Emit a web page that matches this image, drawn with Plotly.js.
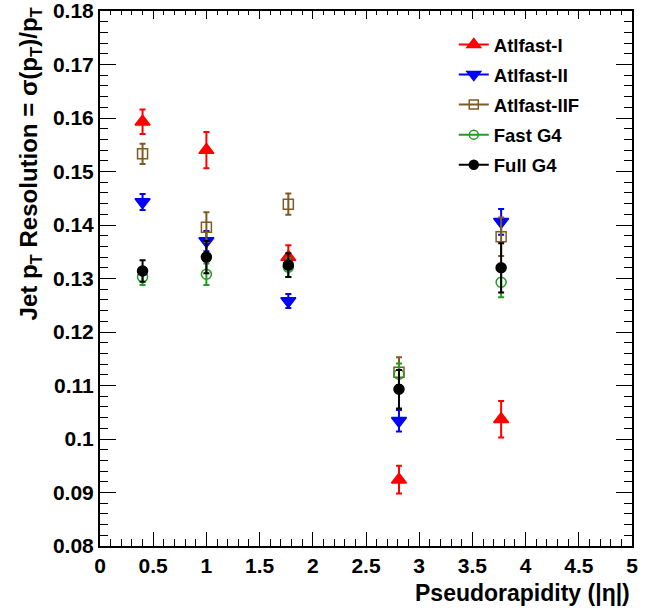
<!DOCTYPE html>
<html>
<head>
<meta charset="utf-8">
<script src="https://cdn.plot.ly/plotly-3.0.1.min.js"></script>
<style>html,body{margin:0;padding:0;background:#fff;}#chart{width:649px;height:609px;}</style>
</head>
<body>
<div id="chart"></div>
<script>
// Data
const eta = [0.4, 1.0, 1.77, 2.81, 3.77];
const seriesNames = ["Atlfast-I", "Atlfast-II", "Atlfast-IIF", "Fast G4", "Full G4"];
const atlfastI      = [0.1593, 0.1540, 0.1340, 0.0924, 0.1037];
const atlfastIErr   = [0.0023, 0.0034, 0.0022, 0.0026, 0.0034];
const atlfastII     = [0.1443, 0.1370, 0.1258, 0.1034, 0.1406];
const atlfastIIErr  = [0.0015, 0.0019, 0.0013, 0.0020, 0.0024];
const atlfastIIF    = [0.1533, 0.1396, 0.1439, 0.1125, 0.1378];
const atlfastIIFErr = [0.0019, 0.0028, 0.0020, 0.0028, 0.0036];
const fastG4        = [0.1303, 0.1308, 0.1321, 0.1121, 0.1293];
const fastG4Err     = [0.0015, 0.0020, 0.0018, 0.0020, 0.0028];
const fullG4        = [0.1314, 0.1340, 0.1325, 0.1093, 0.1320];
const fullG4Err     = [0.0020, 0.0030, 0.0022, 0.0036, 0.0046];
const yTickVals = [0.08, 0.09, 0.10, 0.11, 0.12, 0.13, 0.14, 0.15, 0.16, 0.17, 0.18];
const yTickText = ["0.08", "0.09", "0.1", "0.11", "0.12", "0.13", "0.14", "0.15", "0.16", "0.17", "0.18"];

const yValues = [atlfastI, atlfastII, atlfastIIF, fastG4, fullG4];
const yErrors = [atlfastIErr, atlfastIIErr, atlfastIIFErr, fastG4Err, fullG4Err];
const colors  = ["#ff0000", "#0000ff", "#7f5a22", "#1f9e1f", "#000000"];
const symbols = ["triangle-up", "triangle-down", "square-open", "circle-open", "circle"];
const sizes   = [13, 13, 10, 10, 10];

const traces = [];
for (let i = 0; i < seriesNames.length; i++) {
  traces.push({
    type: "scatter", mode: "markers", x: eta, y: yValues[i],
    name: seriesNames[i], showlegend: false,
    marker: {symbol: symbols[i], color: colors[i], size: sizes[i], line: {color: colors[i], width: 1.5}},
    error_y: {type: "data", array: yErrors[i], visible: true, color: colors[i], thickness: 2, width: 3}
  });
}
// legend entries (line + marker, ROOT style)
for (let i = 0; i < seriesNames.length; i++) {
  traces.push({
    type: "scatter", mode: "lines+markers", x: [null], y: [null],
    name: seriesNames[i], legendgroup: "g" + i, showlegend: true, hoverinfo: "skip",
    line: {color: colors[i], width: 2},
    marker: {symbol: symbols[i], color: colors[i], size: sizes[i] - 1, line: {color: colors[i], width: 1.5}}
  });
}
// dummy trace for the top axis
traces.push({type: "scatter", mode: "markers", x: [null], y: [null], xaxis: "x2", yaxis: "y", showlegend: false, hoverinfo: "skip"});

const F = "Liberation Sans, Arial, Helvetica, sans-serif";
const layout = {
  width: 649, height: 609,
  margin: {l: 100, r: 17, t: 11, b: 63},
  paper_bgcolor: "#ffffff", plot_bgcolor: "#ffffff",
  showlegend: true,
  font: {family: F, color: "#000", weight: "bold"},
  xaxis: {
    range: [0, 5.000001], dtick: 0.5, tick0: 0, ticks: "inside", ticklen: 14, tickwidth: 1, tickcolor: "#000",
    minor: {dtick: 0.1, ticks: "inside", ticklen: 7, tickwidth: 1, tickcolor: "#000"},
    showline: true, linecolor: "#000", linewidth: 2, mirror: false, showgrid: false, zeroline: false,
    tickfont: {family: F, size: 21, weight: "bold", color: "#000"}, ticklabeloverflow: "allow",
    title: {text: ""}
  },
  xaxis2: {
    overlaying: "x", matches: "x", side: "top", anchor: "y",
    dtick: 0.5, tick0: 0, ticks: "inside", ticklen: 8, tickwidth: 1, tickcolor: "#000",
    minor: {dtick: 0.1, ticks: "inside", ticklen: 4, tickwidth: 1, tickcolor: "#000"},
    showline: true, linecolor: "#000", linewidth: 2, showticklabels: false, showgrid: false, zeroline: false
  },
  yaxis: {
    range: [0.08, 0.18], tickmode: "array", tickvals: yTickVals, ticktext: yTickText,
    ticks: "inside", ticklen: 16, tickwidth: 1, tickcolor: "#000",
    minor: {tickmode: "linear", tick0: 0.08, dtick: 0.002, ticks: "inside", ticklen: 8, tickwidth: 1, tickcolor: "#000"},
    showline: true, linecolor: "#000", linewidth: 2, mirror: "ticks", showgrid: false, zeroline: false,
    tickfont: {family: F, size: 21, weight: "bold", color: "#000"}, ticklabeloverflow: "allow",
    title: {text: ""}
  },
  legend: {
    x: 0.665, xanchor: "left", y: 0.972, yanchor: "top",
    bgcolor: "rgba(255,255,255,0)", borderwidth: 0,
    font: {family: F, size: 18.5, weight: "bold", color: "#000"},
    tracegroupgap: 3, itemwidth: 30
  },
  annotations: [
    {text: "Pseudorapidity (|η|)", xref: "paper", yref: "paper", x: 1, xanchor: "right", y: -0.087, yanchor: "middle",
     showarrow: false, font: {family: F, size: 23, weight: "bold", color: "#000"}},
    {text: "Jet p<sub>T</sub> Resolution = σ(p<sub>T</sub>)/p<sub>T</sub>", xref: "paper", yref: "paper",
     x: -0.13, xanchor: "center", y: 1.012, yanchor: "top", textangle: -90,
     showarrow: false, font: {family: F, size: 24, weight: "bold", color: "#000"}}
  ]
};
Plotly.newPlot("chart", traces, layout, {displayModeBar: false, staticPlot: true});
</script>
</body>
</html>
